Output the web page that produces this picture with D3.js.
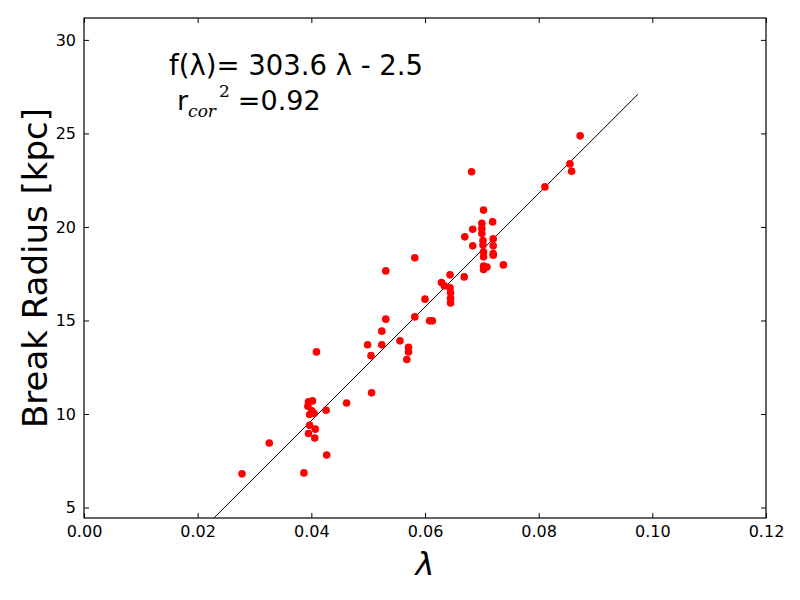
<!DOCTYPE html>
<html>
<head>
<meta charset="utf-8">
<script src="https://cdn.jsdelivr.net/npm/d3@7"></script>
<style>
  body { margin: 0; background: #fff; }
  svg { display: block; }
</style>
</head>
<body>
<div id="chart"></div>
<script>
// lambda (spin parameter) and break radius [kpc]
const lambdaValues = [
  0.0278, 0.0326, 0.0387, 0.0427, 0.0462, 0.0426, 0.0395, 0.0402, 0.0394, 0.0401,
  0.0397, 0.0405, 0.0397, 0.0407, 0.0395, 0.0406, 0.0409, 0.0506, 0.0499, 0.0505,
  0.0524, 0.0524, 0.0531, 0.0582, 0.0531, 0.0556, 0.0571, 0.0571, 0.0568, 0.0582,
  0.0600, 0.0608, 0.0613, 0.0629, 0.0634, 0.0644, 0.0644, 0.0645, 0.0645, 0.0645,
  0.0669, 0.0684, 0.0682, 0.0703, 0.0719, 0.0700, 0.0684, 0.0700, 0.0670, 0.0700,
  0.0720, 0.0702, 0.0720, 0.0702, 0.0703, 0.0720, 0.0703, 0.0720, 0.0738, 0.0709,
  0.0703, 0.0703, 0.0811, 0.0873, 0.0855, 0.0858
];
const breakRadius = [
  6.80, 8.45, 6.85, 7.81, 10.59, 10.20, 10.65, 10.70, 10.42, 10.17,
  9.97, 10.03, 9.40, 9.19, 8.96, 8.72, 13.32, 11.13, 13.70, 13.12,
  14.43, 13.70, 17.65, 18.35, 15.07, 13.91, 13.56, 13.32, 12.91, 15.19,
  16.14, 14.98, 14.98, 17.03, 16.85, 17.44, 16.74, 16.48, 16.18, 15.94,
  17.33, 18.99, 22.95, 20.90, 20.27, 20.19, 19.88, 19.92, 19.47, 19.65,
  19.36, 19.27, 18.99, 19.03, 18.67, 18.58, 18.40, 18.49, 17.97, 17.86,
  17.73, 17.91, 22.14, 24.87, 23.37, 22.98
];

// linear fit f(lambda) = 303.6 lambda - 2.5
const fitSlope = 303.6;
const fitIntercept = -2.5;
const fitRange = [0.022, 0.0975];

const xTicks = [0, 0.02, 0.04, 0.06, 0.08, 0.10, 0.12];
const yTicks = [5, 10, 15, 20, 25, 30];

const margin = { top: 18, right: 34, bottom: 82, left: 84 };
const width = 800 - margin.left - margin.right;
const height = 600 - margin.top - margin.bottom;

const svg = d3.select("#chart")
  .append("svg")
  .attr("width", 800)
  .attr("height", 600);

const g = svg.append("g")
  .attr("transform", `translate(${margin.left},${margin.top})`);

const x = d3.scaleLinear().domain([0, 0.12]).range([0, width]);
const y = d3.scaleLinear().domain([4.44, 31.17]).range([height, 0]);

svg.append("defs").append("clipPath")
  .attr("id", "plot-clip")
  .append("rect")
  .attr("width", width)
  .attr("height", height);

// fit line
const fitData = fitRange.map(l => ({ l, r: fitSlope * l + fitIntercept }));
g.append("path")
  .datum(fitData)
  .attr("clip-path", "url(#plot-clip)")
  .attr("fill", "none")
  .attr("stroke", "#000")
  .attr("stroke-width", 1)
  .attr("d", d3.line().x(d => x(d.l)).y(d => y(d.r)));

// points
const points = lambdaValues.map((l, i) => ({ l, r: breakRadius[i] }));
g.append("g")
  .attr("clip-path", "url(#plot-clip)")
  .selectAll("circle")
  .data(points)
  .enter()
  .append("circle")
  .attr("cx", d => x(d.l))
  .attr("cy", d => y(d.r))
  .attr("r", 3.8)
  .attr("fill", "#ff0000");

// axes (matplotlib classic: ticks inside on all four sides)
const tickLen = 5;
const xAxis = g.append("g")
  .attr("transform", `translate(0,${height})`)
  .call(d3.axisBottom(x).tickValues(xTicks).tickFormat(d3.format(".2f")).tickSizeInner(-tickLen).tickSizeOuter(0).tickPadding(8));
const xAxisTop = g.append("g")
  .call(d3.axisTop(x).tickValues(xTicks).tickFormat("").tickSizeInner(-tickLen).tickSizeOuter(0));
const yAxis = g.append("g")
  .call(d3.axisLeft(y).tickValues(yTicks).tickSizeInner(-tickLen).tickSizeOuter(0).tickPadding(8));
const yAxisRight = g.append("g")
  .attr("transform", `translate(${width},0)`)
  .call(d3.axisRight(y).tickValues(yTicks).tickFormat("").tickSizeInner(-tickLen).tickSizeOuter(0));

[xAxis, xAxisTop, yAxis, yAxisRight].forEach(a => {
  a.select(".domain").remove();
  a.selectAll(".tick line").attr("stroke", "#000").attr("stroke-width", 1);
  a.selectAll(".tick text")
    .style("font-family", "'DejaVu Sans', sans-serif")
    .style("font-size", "16px")
    .style("fill", "#000");
});

// frame
g.append("rect")
  .attr("width", width)
  .attr("height", height)
  .attr("fill", "none")
  .attr("stroke", "#000")
  .attr("stroke-width", 1.2);

// axis labels
svg.append("text")
  .attr("x", margin.left + width / 2)
  .attr("y", 575)
  .attr("text-anchor", "middle")
  .style("font-family", "DejaVu Sans")
  .style("font-style", "italic")
  .style("font-size", "32px")
  .text("λ");

svg.append("text")
  .attr("transform", `translate(47,${margin.top + height / 2}) rotate(-90)`)
  .attr("text-anchor", "middle")
  .style("font-family", "DejaVu Sans")
  .style("font-size", "34px")
  .text("Break Radius [kpc]");

// fit annotation
const ann = svg.append("g")
  .style("font-family", "DejaVu Sans")
  .style("fill", "#000");

ann.append("text")
  .attr("x", 169)
  .attr("y", 75)
  .style("font-size", "27.5px")
  .text("f(λ)= 303.6 λ - 2.5");

const line2 = ann.append("text")
  .attr("x", 177)
  .attr("y", 110)
  .style("font-size", "27px");
line2.append("tspan").text("r");
line2.append("tspan")
  .attr("dy", 7)
  .style("font-family", "'DejaVu Serif', 'Liberation Serif', serif")
  .style("font-style", "italic")
  .style("font-size", "17px")
  .text("cor");
line2.append("tspan")
  .attr("dy", -20)
  .attr("dx", 3)
  .style("font-family", "'DejaVu Serif', 'Liberation Serif', serif")
  .style("font-size", "17px")
  .text("2");
line2.append("tspan")
  .attr("dy", 13)
  .attr("dx", 8)
  .text("=0.92");
</script>
</body>
</html>
